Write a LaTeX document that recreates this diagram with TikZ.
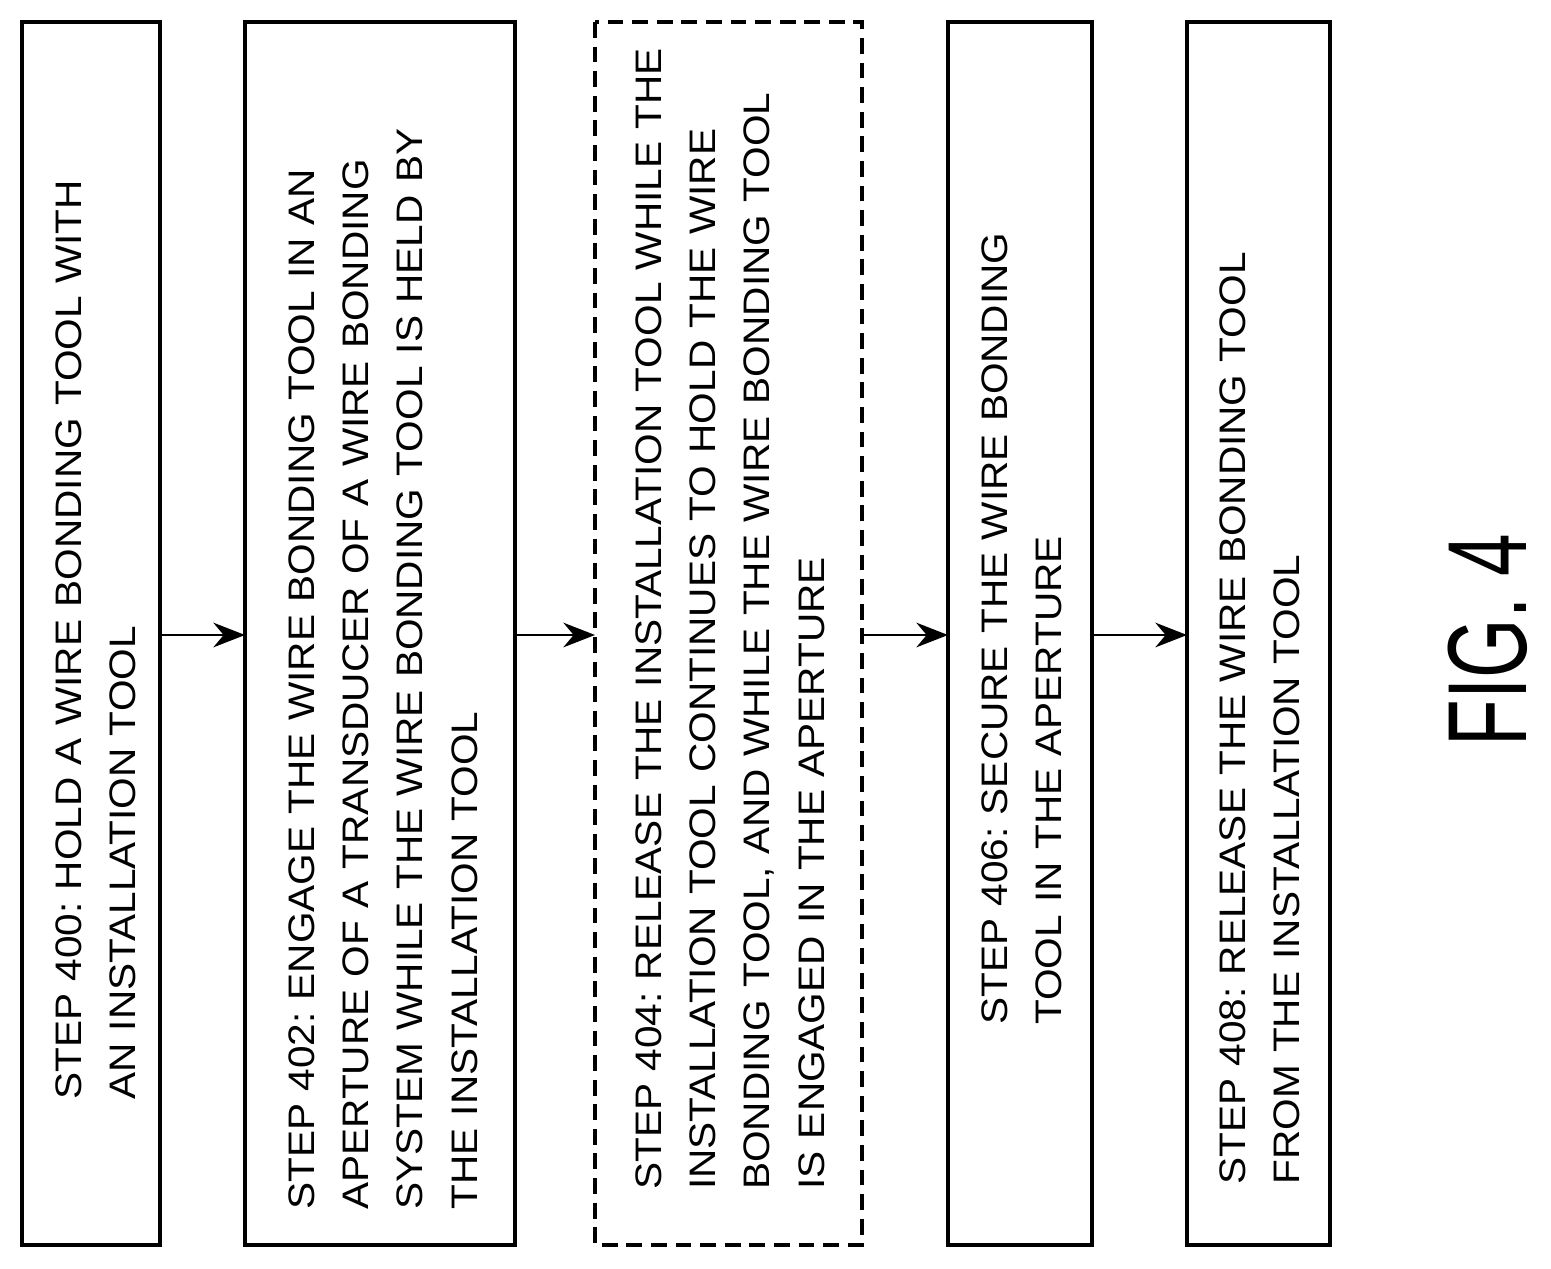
\documentclass[tikz,border=0pt]{standalone}
\usepackage{fontspec}
\setmainfont{Liberation Sans}
\usetikzlibrary{arrows.meta}
\begin{document}
\frenchspacing
\begin{tikzpicture}[x=0.02cm,y=-0.02cm,
  box/.style={draw, line width=2pt},
  txt/.style={rotate=90, anchor=west, align=left, text width=30cm, inner sep=0pt,
    font=\fontsize{21}{31}\selectfont\addfontfeatures{FakeStretch=1.1}},
  arr/.style={-{Stealth[length=18pt,width=14pt]}, line width=1.6pt}]
\useasboundingbox (0,0) rectangle (1551,1268);
\draw[box] (22,22) rectangle (160,1245);
\draw[box] (245,22) rectangle (515,1245);
\draw[box, dash pattern=on 9pt off 5pt] (595,22) rectangle (862,1245);
\draw[box] (948,22) rectangle (1092,1245);
\draw[box] (1187,22) rectangle (1330,1245);
\coordinate (b1r) at (160,635); \coordinate (b2l) at (245,635);
\coordinate (b2r) at (515,635); \coordinate (b3l) at (595,635);
\coordinate (b3r) at (862,635); \coordinate (b4l) at (948,635);
\coordinate (b4r) at (1092,635); \coordinate (b5l) at (1187,635);
\draw[arr] (b1r) -- (b2l);
\draw[arr] (b2r) -- (b3l);
\draw[arr] (b3r) -- (b4l);
\draw[arr] (b4r) -- (b5l);
\node[txt] (t1) at (96,1100) {STEP 400: HOLD A WIRE BONDING TOOL WITH\\ AN INSTALLATION TOOL};
\node[txt] (t2) at (383,1210) {STEP 402: ENGAGE THE WIRE BONDING TOOL IN AN\\ APERTURE OF A TRANSDUCER OF A WIRE BONDING\\ SYSTEM WHILE THE WIRE BONDING TOOL IS HELD BY\\ THE INSTALLATION TOOL};
\node[txt] (t3) at (730,1190) {STEP 404: RELEASE THE INSTALLATION TOOL WHILE THE\\ INSTALLATION TOOL CONTINUES TO HOLD THE WIRE\\ BONDING TOOL, AND WHILE THE WIRE BONDING TOOL\\ IS ENGAGED IN THE APERTURE};
\node[txt] (t4) at (1022,1025) {STEP 406: SECURE THE WIRE BONDING\\ TOOL IN THE APERTURE};
\node[txt] (t5) at (1260,1185) {STEP 408: RELEASE THE WIRE BONDING TOOL\\ FROM THE INSTALLATION TOOL};
\node[rotate=90, font=\fontsize{64}{70}\selectfont\addfontfeatures{FakeStretch=0.68}] (fig) at (1488,640) {FIG. 4};
\end{tikzpicture}
\end{document}
